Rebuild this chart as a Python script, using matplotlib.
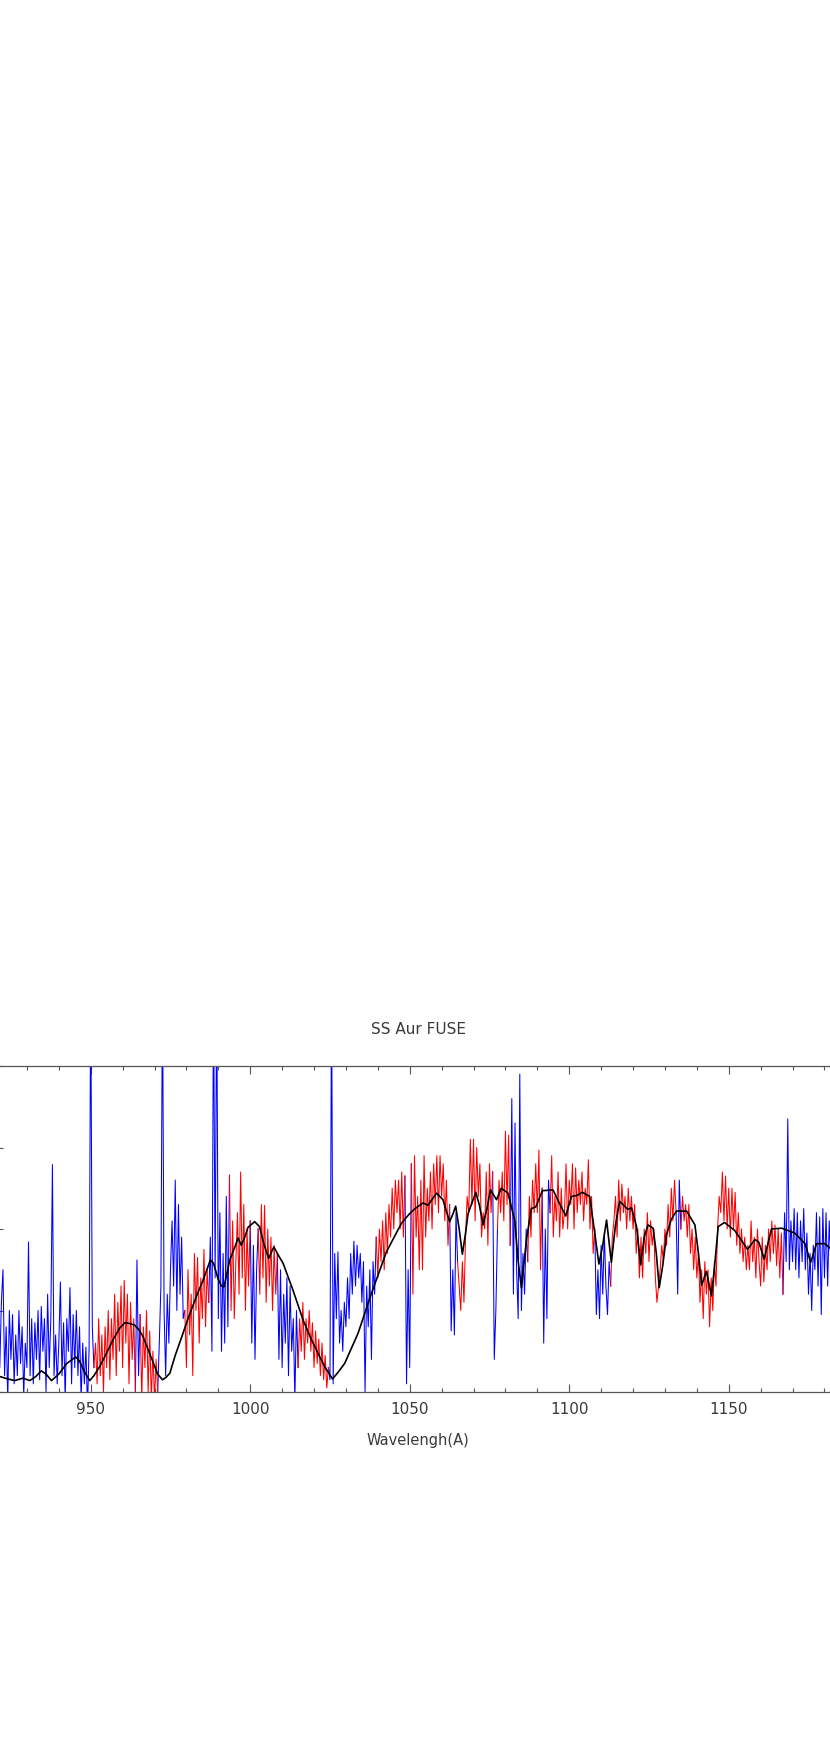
import numpy as np
import matplotlib
matplotlib.use("Agg")
import matplotlib.pyplot as plt
from matplotlib.ticker import MultipleLocator

TITLE = "SS Aur FUSE"
X_LABEL = "Wavelengh(A)"

# observed flux, 0.5 A steps starting at 920 A (one row = 10 A)
flux = [
    0.5, 0.05, 0.9, 0.3, 1.1, 1.5, 0.2, 0.8, -0.1, 1.0, 0.4, 0.95, 0.1, 0.7, 0.2, 1.0, 0.35, 0.8, -0.05, 0.6,
    0.3, 1.84, 0.2, 0.9, 0.1, 0.85, 0.4, 1.0, 0.15, 1.05, 0.5, 0.9, 0.0, 1.2, 0.3, 0.9, 2.79, 0.2, 0.7, 0.1,
    0.6, 1.35, 0.2, 0.85, -0.1, 0.9, 0.5, 1.28, 0.1, 0.95, 0.3, 1.0, 0.2, 0.8, -0.1, 0.6, 0.1, 0.55, -0.2, 0.55,
    5.0, 0.8, 0.3, 0.6, 0.1, 0.9, 0.2, 0.7, 0.0, 0.8, 0.3, 1.0, 0.15, 0.9, 0.4, 1.2, 0.2, 1.1, 0.5, 1.3,
    0.3, 1.37, 0.6, 1.2, 0.1, 1.1, 0.4, 0.9, 0.0, 1.62, 0.2, 0.95, -0.1, 0.8, 0.3, 1.0, 0.0, 0.75, -0.1, 0.5,
    -0.1, 0.4, 0.0, 0.6, 1.3, 5.0, 1.0, 0.2, 1.2, 0.6, 1.5, 2.1, 1.3, 2.6, 1.0, 2.3, 1.2, 1.9, 0.9, 1.0,
    0.3, 1.5, 0.7, 1.2, 0.2, 1.7, 1.0, 1.65, 0.6, 1.4, 0.9, 1.75, 0.8, 1.5, 1.1, 1.9, 0.5, 5.0, 1.4, 5.0,
    0.9, 2.2, 0.5, 1.7, 0.6, 2.4, 0.8, 2.66, 1.0, 2.1, 0.9, 1.6, 2.2, 1.2, 2.7, 1.4, 2.3, 1.0, 2.0, 1.3,
    2.1, 0.6, 1.8, 0.4, 1.5, 2.0, 1.2, 2.3, 1.4, 2.29, 1.1, 2.0, 1.3, 1.9, 1.0, 1.8, 1.2, 1.7, 0.4, 1.5,
    0.3, 1.2, 0.6, 1.4, 0.2, 1.3, 0.5, 0.9, -0.1, 1.0, 0.3, 0.9, 0.5, 1.1, 0.4, 0.9, 0.6, 1.0, 0.5, 0.85,
    0.3, 0.75, 0.35, 0.65, 0.2, 0.6, 0.15, 0.45, 0.05, 0.3, 0.15, 5.0, 0.1, 1.7, 0.9, 1.72, 0.6, 1.0, 0.5, 1.1,
    0.8, 1.4, 0.9, 1.7, 1.2, 1.85, 1.3, 1.8, 1.4, 1.7, 1.1, 1.6, 0.0, 1.3, 0.8, 1.5, 0.4, 1.6, 1.2, 1.9,
    1.4, 2.0, 1.6, 2.1, 1.5, 2.2, 1.7, 2.3, 1.9, 2.5, 2.0, 2.6, 2.2, 2.6, 2.0, 2.7, 1.9, 2.65, 0.1, 1.5,
    0.3, 2.8, 1.2, 2.9, 1.9, 2.4, 1.5, 2.6, 1.5, 2.9, 1.9, 2.5, 2.1, 2.7, 2.0, 2.8, 2.3, 2.9, 2.2, 2.9,
    2.4, 2.8, 2.1, 2.6, 1.8, 2.3, 0.75, 1.5, 0.7, 2.2, 1.6, 1.3, 1.0, 1.6, 1.1, 1.9, 2.4, 2.2, 3.1, 2.3,
    3.1, 2.1, 3.0, 2.4, 2.8, 1.9, 2.2, 2.0, 2.7, 1.8, 2.8, 2.2, 2.7, 0.4, 1.0, 2.0, 2.6, 2.2, 2.7, 2.1,
    3.2, 2.3, 3.15, 1.8, 3.6, 1.2, 3.3, 1.5, 0.9, 3.9, 1.0, 1.7, 1.2, 2.0, 1.6, 2.4, 1.9, 2.6, 2.2, 2.8,
    2.2, 2.97, 1.5, 2.5, 0.6, 2.0, 0.9, 2.6, 2.2, 2.9, 1.9, 2.4, 2.1, 2.7, 1.9, 2.5, 2.0, 2.2, 2.8, 2.0,
    2.6, 2.3, 2.8, 2.0, 2.75, 2.2, 2.6, 2.3, 2.7, 2.1, 2.5, 2.3, 2.85, 2.0, 2.4, 1.7, 2.0, 0.95, 1.5, 0.9,
    1.8, 1.2, 1.95, 1.3, 0.95, 1.6, 1.3, 1.9, 2.1, 2.4, 1.9, 2.6, 2.1, 2.55, 2.2, 2.4, 2.0, 2.5, 2.1, 2.4,
    2.0, 2.3, 1.7, 2.0, 1.4, 1.9, 1.4, 2.0, 1.7, 2.2, 1.6, 2.1, 1.8, 2.0, 1.4, 1.1, 1.3, 1.5, 1.8, 1.6,
    2.0, 1.8, 2.3, 1.9, 2.5, 2.1, 2.6, 2.2, 1.2, 2.6, 2.0, 2.4, 2.1, 2.3, 1.9, 2.3, 1.7, 2.0, 1.5, 1.9,
    1.4, 1.7, 1.1, 1.5, 0.9, 1.6, 1.2, 1.5, 0.8, 1.4, 1.0, 1.6, 1.3, 2.0, 2.4, 2.2, 2.7, 2.1, 2.65, 2.0,
    2.5, 1.9, 2.5, 2.0, 2.45, 1.8, 2.2, 1.7, 2.0, 1.6, 1.9, 1.5, 1.8, 1.5, 2.1, 1.6, 1.9, 1.4, 2.0, 1.6,
    1.3, 1.9, 1.35, 1.8, 1.5, 2.0, 1.6, 2.1, 1.7, 2.05, 1.55, 2.0, 1.4, 1.95, 1.2, 2.2, 1.6, 3.35, 1.5, 2.1,
    1.6, 2.25, 1.5, 2.2, 1.4, 2.1, 1.6, 2.25, 1.5, 1.95, 1.2, 1.7, 1.0, 1.8, 1.5, 2.2, 1.3, 2.15, 0.95, 2.25,
    1.4, 2.2, 1.3, 2.1, 1.6, 2.0, 1.5,
]

# parts of the spectrum drawn in red (the rest stays blue)
red_ranges = [(951.0, 964.0), (965.5, 971.0), (979.5, 987.0), (993.5, 1000.0),
              (1002.5, 1008.5), (1015.0, 1024.5), (1039.5, 1048.5), (1050.5, 1062.5),
              (1065.0, 1076.0), (1077.5, 1081.5), (1087.0, 1091.5), (1094.0, 1108.0),
              (1113.0, 1133.5), (1135.0, 1167.0)]

# model spectrum (black)
model_wave = [920.0, 921.5, 924.0, 926.2, 928.8, 930.9, 932.8, 934.5, 936.0, 937.7,
              940.0, 942.5, 945.3, 946.5, 948.0, 949.7, 951.0, 952.8, 955.0, 957.0,
              959.0, 960.7, 962.3, 963.8, 965.2, 966.4, 968.0, 969.5, 971.0, 972.5,
              973.6, 974.8, 976.5, 978.4, 980.5, 983.1, 985.4, 987.5, 988.5, 989.9,
              991.0, 991.8, 993.6, 995.0, 996.2, 997.2, 998.3, 999.3, 1001.4, 1002.9,
              1004.4, 1005.8, 1007.4, 1008.8, 1010.3, 1013.4, 1016.6, 1019.0, 1021.3, 1023.5,
              1025.8, 1027.5, 1029.6, 1033.8, 1038.0, 1040.5, 1042.7, 1047.4, 1050.0, 1052.0,
              1054.2, 1055.7, 1058.4, 1060.4, 1062.5, 1063.5, 1064.4, 1065.5, 1066.5, 1067.5,
              1068.3, 1070.7, 1071.8, 1073.0, 1074.2, 1075.3, 1077.2, 1078.7, 1080.8, 1082.9,
              1084.0, 1085.0, 1086.6, 1088.1, 1089.5, 1091.6, 1094.9, 1097.0, 1098.9, 1100.7,
              1102.3, 1104.1, 1106.4, 1108.0, 1109.3, 1110.5, 1111.7, 1113.2, 1114.5, 1115.8,
              1118.4, 1119.5, 1121.1, 1122.4, 1123.5, 1124.7, 1126.3, 1127.3, 1128.2, 1129.3,
              1130.5, 1132.0, 1133.6, 1136.8, 1139.4, 1140.5, 1141.5, 1143.0, 1144.6, 1145.7,
              1146.7, 1148.7, 1151.9, 1155.9, 1158.2, 1159.4, 1161.1, 1163.4, 1166.6, 1170.7,
              1173.9, 1175.7, 1177.5, 1180.1, 1182.5, 1185.0]
model_flux = [0.19, 0.19, 0.16, 0.14, 0.17, 0.14, 0.19, 0.26, 0.22, 0.14,
              0.22, 0.35, 0.43, 0.38, 0.25, 0.14, 0.20, 0.31, 0.48, 0.64,
              0.78, 0.85, 0.84, 0.82, 0.76, 0.68, 0.52, 0.37, 0.22, 0.15,
              0.18, 0.23, 0.45, 0.66, 0.90, 1.17, 1.39, 1.62, 1.58, 1.39,
              1.30, 1.29, 1.62, 1.76, 1.89, 1.80, 1.90, 2.02, 2.09, 2.03,
              1.80, 1.64, 1.78, 1.68, 1.58, 1.25, 0.88, 0.66, 0.47, 0.30,
              0.16, 0.24, 0.35, 0.72, 1.21, 1.48, 1.72, 2.07, 2.19, 2.26,
              2.32, 2.29, 2.44, 2.36, 2.09, 2.18, 2.28, 2.00, 1.69, 1.95,
              2.19, 2.45, 2.30, 2.05, 2.25, 2.48, 2.36, 2.50, 2.44, 2.11,
              1.60, 1.28, 1.87, 2.25, 2.27, 2.47, 2.48, 2.31, 2.16, 2.40,
              2.41, 2.45, 2.40, 1.95, 1.57, 1.80, 2.11, 1.59, 2.05, 2.34,
              2.24, 2.26, 2.03, 1.56, 1.90, 2.05, 2.01, 1.70, 1.28, 1.55,
              1.93, 2.12, 2.22, 2.22, 2.05, 1.70, 1.31, 1.48, 1.18, 1.60,
              2.03, 2.08, 1.98, 1.75, 1.87, 1.84, 1.63, 2.00, 2.01, 1.95,
              1.82, 1.59, 1.82, 1.82, 1.74, 1.70]

TEXT_COLOR = "#3a3a3a"


def red_mask(wave):
    mask = np.zeros(len(wave), dtype=bool)
    for lo, hi in red_ranges:
        mask |= (wave >= lo - 1e-6) & (wave <= hi + 1e-6)
    return mask


wave = 920.0 + 0.5 * np.arange(len(flux))
flux = np.array(flux)
is_red = red_mask(wave)
# blue only where the red is absent (keeps one shared point at each join)
inner = is_red & np.roll(is_red, 1) & np.roll(is_red, -1)
blue_flux = np.where(inner, np.nan, flux)
red_flux = np.where(is_red, flux, np.nan)

fig = plt.figure(figsize=(8.3, 17.45), dpi=100)
ax = fig.add_axes([-5.0 / 830, 353 / 1745, 845.4 / 830, 326 / 1745])

ax.plot(wave, blue_flux, color="#0000ff", lw=0.75)
ax.plot(wave, red_flux, color="#ff0000", lw=0.75)
ax.plot(model_wave, model_flux, color="black", lw=1.2)

ax.set_xlim(920, 1185)
ax.set_ylim(0, 4)
ax.xaxis.set_major_locator(MultipleLocator(50))
ax.xaxis.set_minor_locator(MultipleLocator(10))
ax.set_yticks([0, 1, 2, 3, 4])
ax.tick_params(which="both", direction="in", top=True, right=True, colors="#555555",
               labelcolor=TEXT_COLOR, labelsize=11, labelleft=False, pad=7, width=0.8)
ax.tick_params(which="major", length=5.5)
ax.tick_params(which="minor", length=2.7)
for sp in ax.spines.values():
    sp.set_color("#555555")
    sp.set_linewidth(0.9)

fig.text(418 / 830, 1 - 1029 / 1745, TITLE, ha="center", va="center", fontsize=11, color=TEXT_COLOR)
fig.text(418 / 830, 1 - 1440 / 1745, X_LABEL, ha="center", va="center", fontsize=10.5, color=TEXT_COLOR)

fig.savefig("out.png", dpi=100)
